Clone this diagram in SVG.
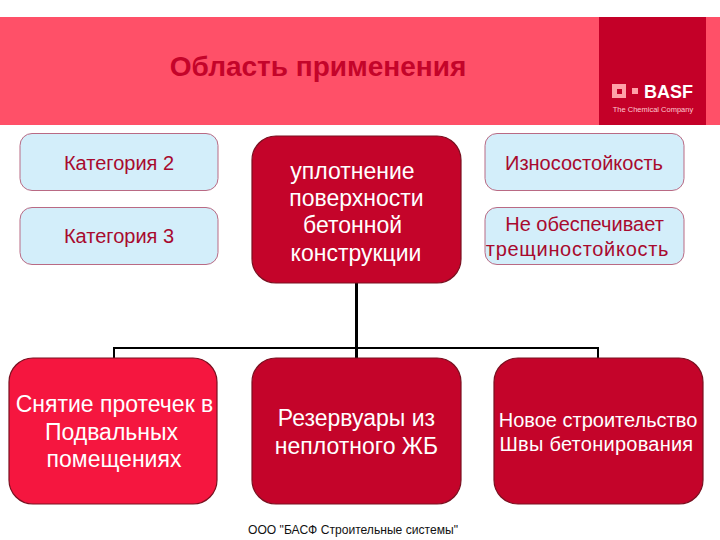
<svg xmlns="http://www.w3.org/2000/svg" width="720" height="540" viewBox="0 0 720 540">
<style>
text{font-family:"Liberation Sans",Arial,sans-serif;text-anchor:middle}
.light{fill:#d3eefa;stroke:#b96a84;stroke-width:1}
.dark{fill:#c4042a;stroke:#7a1020;stroke-width:1.2}
.bright{fill:#f5163f;stroke:#7a1020;stroke-width:1.2}
.lt{fill:#a80a2e;font-size:20px}
.wt{fill:#fff;font-size:23px}
.ws{fill:#fff;font-size:20px}
.conn{stroke:#000;fill:none}
</style>
<rect width="720" height="540" fill="#fff"/>
<g id="banner">
<rect x="0" y="17" width="720" height="108" fill="#ff5068"/>
<rect x="599" y="17" width="107" height="108" fill="#c40028"/>
<text x="318" y="76" font-size="28" font-weight="bold" fill="#c4042a">Область применения</text>
</g>
<g id="logo">
<rect x="612" y="84" width="14" height="14" fill="#ffa0a8"/>
<rect x="617" y="89" width="5" height="5" fill="#c40028"/>
<rect x="632" y="88" width="6" height="6" fill="#ffa0a8"/>
<text x="668.500" y="98" font-size="18" font-weight="bold" fill="#fff">BASF</text>
<text x="653" y="112" font-size="7.500" fill="#ffc8d0">The Chemical Company</text>
</g>
<g id="connectors" class="conn">
<path d="M356.500 283V358" stroke-width="3"/>
<path d="M114 358V348H598V358" stroke-width="2"/>
</g>
<g id="n-cat2"><rect class="light" x="20" y="133.500" width="198" height="57" rx="12"/><text class="lt" x="119" y="170">Категория 2</text></g>
<g id="n-cat3"><rect class="light" x="20" y="207.500" width="198" height="57" rx="12"/><text class="lt" x="119" y="243">Категория 3</text></g>
<g id="n-wear"><rect class="light" x="485" y="133.500" width="199" height="57" rx="12"/><text class="lt" x="584" y="170">Износостойкость</text></g>
<g id="n-crack"><rect class="light" x="485" y="207.500" width="199" height="57" rx="12"/><text class="lt" x="584.500" y="231">Не обеспечивает</text><text class="lt" x="577.500" y="256" letter-spacing="0.700">трещиностойкость</text></g>
<g id="n-top"><rect class="dark" x="252" y="136" width="209" height="147" rx="24"/>
<text class="wt" x="352.500" y="179">уплотнение</text><text class="wt" x="356.500" y="206">поверхности</text><text class="wt" x="352.500" y="233">бетонной</text><text class="wt" x="356" y="261">конструкции</text></g>
<g id="n-left"><rect class="bright" x="9" y="358" width="208" height="146" rx="24"/>
<text class="wt" x="114.500" y="412">Снятие протечек в</text><text class="wt" x="111.500" y="440">Подвальных</text><text class="wt" x="114" y="467">помещениях</text></g>
<g id="n-mid"><rect class="dark" x="252" y="358" width="209" height="146" rx="24"/>
<text class="wt" x="356.500" y="426">Резервуары из</text><text class="wt" x="356.500" y="454">неплотного ЖБ</text></g>
<g id="n-right"><rect class="dark" x="494" y="358" width="209" height="146" rx="24"/>
<text class="ws" x="598" y="427">Новое строительство</text><text class="ws" x="596.500" y="451" letter-spacing="0.250">Швы бетонирования</text></g>
<text x="353" y="534" font-size="12.100" fill="#111">ООО "БАСФ Строительные системы"</text>
</svg>
